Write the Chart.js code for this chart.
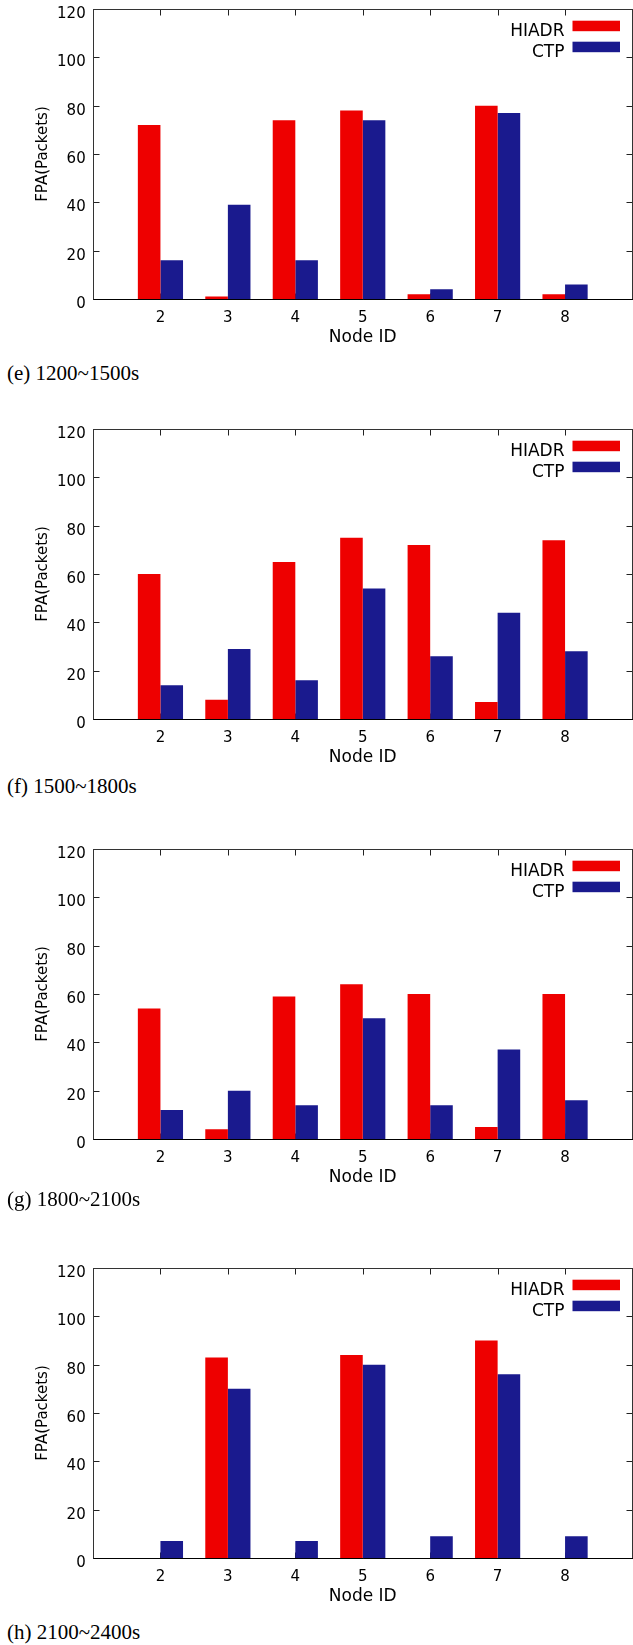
<!DOCTYPE html>
<html>
<head>
<meta charset="utf-8">
<script src="https://cdn.jsdelivr.net/npm/chart.js@4.4.1/dist/chart.umd.min.js"></script>
<style>
  body { margin: 0; background: #fff; }
  #page { position: relative; width: 633px; height: 1645px; overflow: hidden; background: #fff; }
  canvas { position: absolute; left: 0; }
  .caption { position: absolute; left: 7px; font-family: "Liberation Serif", serif; font-size: 21px; line-height: 21px; color: #000; white-space: nowrap; }
</style>
</head>
<body>
<div id="page"></div>
<script>
// node ids on the x axis
const nodes = [2, 3, 4, 5, 6, 7, 8];

// (e) 1200~1500s
const hiadrE = [72, 1, 74, 78, 2, 80, 2];
const ctpE = [16, 39, 16, 74, 4, 77, 6];
// (f) 1500~1800s
const hiadrF = [60, 8, 65, 75, 72, 7, 74];
const ctpF = [14, 29, 16, 54, 26, 44, 28];
// (g) 1800~2100s
const hiadrG = [54, 4, 59, 64, 60, 5, 60];
const ctpG = [12, 20, 14, 50, 14, 37, 16];
// (h) 2100~2400s
const hiadrH = [0, 83, 0, 84, 0, 90, 0];
const ctpH = [7, 70, 7, 80, 9, 76, 9];

const captions = ['(e) 1200~1500s', '(f) 1500~1800s', '(g) 1800~2100s', '(h) 2100~2400s'];
const yTickValues = [20, 40, 60, 80, 100];

const panels = [
  { hiadr: hiadrE, ctp: ctpE, plotTop: 9, capTop: 362.5 },
  { hiadr: hiadrF, ctp: ctpF, plotTop: 429, capTop: 776 },
  { hiadr: hiadrG, ctp: ctpG, plotTop: 849, capTop: 1188.5 },
  { hiadr: hiadrH, ctp: ctpH, plotTop: 1268, capTop: 1622 }
];

const RED = '#ee0000';
const BLUE = '#1a1a8e';

// gnuplot style box with inward ticks on all four sides
const frame = {
  id: 'frame',
  beforeDatasetsDraw(chart) {
    const { ctx, chartArea: a, scales: { x, y } } = chart;
    const L = Math.round(a.left) + 0.5, R = Math.round(a.right) - 0.5;
    const T = Math.round(a.top) + 0.5, B = Math.round(a.bottom) + 0.5;
    ctx.save();
    ctx.strokeStyle = '#222';
    ctx.lineWidth = 1;
    ctx.beginPath();
    yTickValues.forEach(v => {
      const py = Math.round(y.getPixelForValue(v)) + 0.5;
      ctx.moveTo(L, py); ctx.lineTo(L + 6, py);
      ctx.moveTo(R, py); ctx.lineTo(R - 6, py);
    });
    nodes.forEach(n => {
      const px = Math.round(x.getPixelForValue(n)) + 0.5;
      ctx.moveTo(px, T); ctx.lineTo(px, T + 6);
      ctx.moveTo(px, B); ctx.lineTo(px, B - 6);
    });
    ctx.stroke();
    ctx.restore();
  },
  afterDatasetsDraw(chart) {
    const { ctx, chartArea: a } = chart;
    const L = Math.round(a.left) + 0.5, R = Math.round(a.right) - 0.5;
    const T = Math.round(a.top) + 0.5, B = Math.round(a.bottom) + 0.5;
    ctx.save();
    ctx.strokeStyle = '#333';
    ctx.lineWidth = 1;
    ctx.strokeRect(L, T, R - L, B - T);
    ctx.strokeStyle = '#000';
    ctx.beginPath(); ctx.moveTo(L, B); ctx.lineTo(R + 1, B); ctx.stroke();
    ctx.restore();
  }
};

// legend in the top right corner, text left of the swatch
const keyBox = {
  id: 'keyBox',
  afterDraw(chart) {
    const { ctx, chartArea: a } = chart;
    ctx.save();
    ctx.font = '17px "DejaVu Sans"';
    ctx.textAlign = 'right';
    ctx.textBaseline = 'alphabetic';
    chart.data.datasets.forEach((ds, i) => {
      const top = a.top + 11.7 + i * 21;
      ctx.fillStyle = ds.backgroundColor;
      ctx.fillRect(a.right - 60, top, 47.5, 10.5);
      ctx.fillStyle = '#000';
      ctx.fillText(ds.label, a.right - 68, top + 15.4);
    });
    ctx.restore();
  }
};

const page = document.getElementById('page');

panels.forEach((p, k) => {
  const canvas = document.createElement('canvas');
  canvas.width = 633;
  canvas.height = 360;
  canvas.style.top = (p.plotTop - 20) + 'px';
  page.appendChild(canvas);

  const cap = document.createElement('div');
  cap.className = 'caption';
  cap.style.top = p.capTop + 'px';
  cap.textContent = captions[k];
  page.appendChild(cap);

  new Chart(canvas, {
    type: 'bar',
    data: {
      datasets: [
        {
          label: 'HIADR',
          data: nodes.map((n, i) => ({ x: n, y: p.hiadr[i] })),
          backgroundColor: RED,
          borderWidth: 0
        },
        {
          label: 'CTP',
          data: nodes.map((n, i) => ({ x: n, y: p.ctp[i] })),
          backgroundColor: BLUE,
          borderWidth: 0
        }
      ]
    },
    options: {
      responsive: false,
      animation: false,
      devicePixelRatio: 1,
      categoryPercentage: 0.67,
      barPercentage: 1,
      layout: { padding: { top: 20, left: 0, right: 0.5, bottom: 0 } },
      plugins: { legend: { display: false }, tooltip: { enabled: false } },
      scales: {
        x: {
          type: 'linear',
          min: 1,
          max: 9,
          offset: false,
          grid: { display: false, drawTicks: false },
          border: { display: false },
          ticks: {
            stepSize: 1,
            autoSkip: false,
            maxRotation: 0,
            padding: 10.4,
            color: '#000',
            font: { family: 'DejaVu Sans', size: 15 },
            callback: v => (v >= 2 && v <= 8 ? String(v) : '')
          },
          title: {
            display: true,
            text: 'Node ID',
            color: '#000',
            font: { family: 'DejaVu Sans', size: 17 },
            padding: { top: 0, bottom: 1 }
          },
          // fixed height, and no extra side padding so the box runs to the right edge
          afterFit: s => { s.height = 50; s.paddingLeft = 0; s.paddingRight = 0; }
        },
        y: {
          min: 0,
          max: 120,
          grid: { display: false, drawTicks: false },
          border: { display: false },
          ticks: {
            stepSize: 20,
            padding: 7.3,
            labelOffset: 5,
            color: '#000',
            font: { family: 'DejaVu Sans', size: 15 }
          },
          title: {
            display: true,
            text: 'FPA(Packets)',
            color: '#000',
            font: { family: 'DejaVu Sans', size: 15 },
            padding: { top: 34.3, bottom: 0 }
          },
          afterFit: s => { s.width = 93; }
        }
      }
    },
    plugins: [frame, keyBox]
  });
});
</script>
</body>
</html>
